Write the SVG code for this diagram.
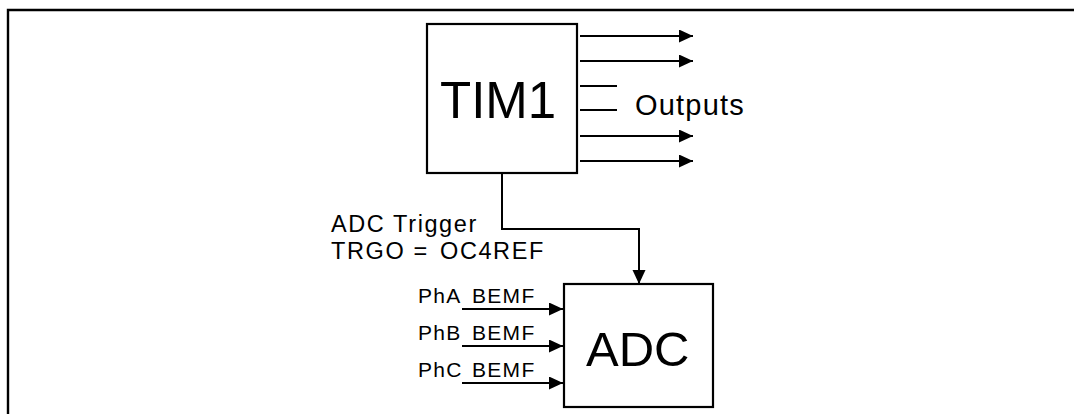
<svg xmlns="http://www.w3.org/2000/svg" width="1074" height="414" viewBox="0 0 1074 414">
<style>
text{font-family:"Liberation Sans",Arial,sans-serif;fill:#000}
.box{fill:#fff;stroke:#000;stroke-width:2.2}
.ln{fill:none;stroke:#000;stroke-width:2}
.big{font-size:50px}
.lbl{font-size:23.5px;letter-spacing:1.6px}
.ph{font-size:21px;letter-spacing:1.3px}
</style>
<defs>
<marker id="ah" markerUnits="userSpaceOnUse" markerWidth="16" markerHeight="14" refX="14" refY="6.5" orient="auto">
<path d="M0,0 L14,6.5 L0,13 Z" fill="#000"/>
</marker>
</defs>
<rect width="1074" height="414" fill="#fff"/>
<path d="M8,414 V10 H1074" fill="none" stroke="#000" stroke-width="2.4"/>
<g id="connectors">
<line class="ln" x1="580" y1="36" x2="693" y2="36" marker-end="url(#ah)"/>
<line class="ln" x1="580" y1="61" x2="693" y2="61" marker-end="url(#ah)"/>
<line class="ln" x1="580" y1="86" x2="617" y2="86"/>
<line class="ln" x1="580" y1="110" x2="617" y2="110"/>
<line class="ln" x1="580" y1="136" x2="693" y2="136" marker-end="url(#ah)"/>
<line class="ln" x1="580" y1="161" x2="693" y2="161" marker-end="url(#ah)"/>
<polyline class="ln" points="502,173 502,229 639,229 639,284" marker-end="url(#ah)"/>
<line class="ln" x1="462" y1="309" x2="563" y2="309" marker-end="url(#ah)"/>
<line class="ln" x1="462" y1="346" x2="563" y2="346" marker-end="url(#ah)"/>
<line class="ln" x1="462" y1="383" x2="563" y2="383" marker-end="url(#ah)"/>
<text x="635" y="115" style="font-size:29px;letter-spacing:1.2px">Outputs</text>
<text class="lbl" x="331" y="232">ADC Trigger</text>
<text class="lbl" y="259"><tspan x="331">TRGO =</tspan><tspan x="440">OC4REF</tspan></text>
<text class="ph" y="303"><tspan x="418">PhA</tspan><tspan x="472">BEMF</tspan></text>
<text class="ph" y="340"><tspan x="418">PhB</tspan><tspan x="472">BEMF</tspan></text>
<text class="ph" y="377"><tspan x="418">PhC</tspan><tspan x="472">BEMF</tspan></text>
</g>
<g id="tim1">
<rect class="box" x="427" y="24" width="150" height="149"/>
<text class="big" x="440" y="118" style="font-size:51px">TIM1</text>
</g>
<g id="adc">
<rect class="box" x="564" y="284" width="149" height="123"/>
<text class="big" x="586" y="366" style="font-size:49px">ADC</text>
</g>
</svg>
